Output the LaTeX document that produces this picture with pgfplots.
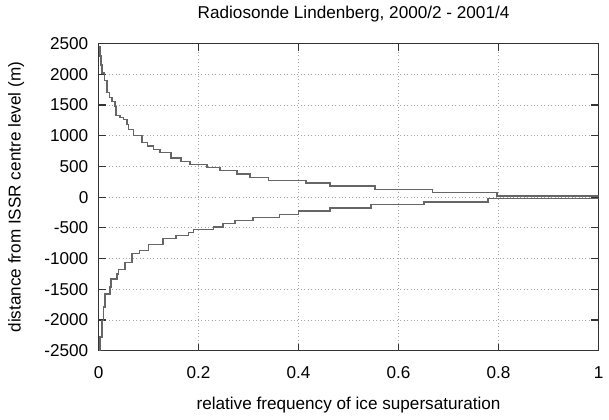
\documentclass[border=0pt,12pt]{standalone}
\usepackage{fontspec}
\setmainfont{Liberation Sans}
\usepackage{pgfplots}
\pgfplotsset{compat=1.18}
\usepackage{pgfplotstable}

% upper branch: (frequency where the level starts, distance in m)
\pgfplotstableread{
f m
0.000 2450
0.003 2300
0.005 2150
0.007 2020
0.012 1900
0.017 1700
0.022 1620
0.027 1560
0.033 1480
0.035 1330
0.043 1300
0.050 1260
0.057 1180
0.060 1100
0.070 1000
0.087 890
0.098 833
0.110 779
0.123 724
0.145 640
0.165 577
0.183 530
0.217 485
0.243 430
0.277 376
0.303 322
0.340 272
0.415 228
0.463 180
0.553 125
0.668 76
0.797 22
1.000 22
}\upperdata

% lower branch
\pgfplotstableread{
f m
0.000 -2500
0.003 -2280
0.007 -2010
0.010 -1790
0.013 -1580
0.023 -1465
0.025 -1330
0.037 -1250
0.040 -1180
0.053 -1060
0.067 -920
0.082 -866
0.100 -773
0.129 -676
0.155 -621
0.180 -577
0.190 -523
0.230 -485
0.249 -430
0.273 -376
0.309 -328
0.362 -278
0.400 -223
0.463 -178
0.545 -120
0.651 -76
0.779 -22
1.000 -22
}\lowerdata

\begin{document}
\begin{tikzpicture}
\useasboundingbox (-69pt,-48.5pt) rectangle (357.3pt,245.5pt);
\begin{axis}[
    scale only axis,
    width=350pt, height=215pt,
    xmin=0, xmax=1,
    ymin=-2500, ymax=2500,
    xtick={0,0.2,...,1},
    ytick={-2500,-2000,...,2500},
    scaled y ticks=false,
    /pgf/number format/1000 sep={},
    /pgf/number format/assume math mode=true,
    tick align=inside,
    major tick length=5pt,
    tick style={black!80, line width=0.8pt},
    axis line style={black!80, line width=0.8pt},
    grid=major,
    major grid style={dotted, black!35, line width=0.5pt},
    xticklabel style={yshift=-7pt},
    yticklabel style={xshift=-3pt},
    every axis title shift=0pt,
    title={Radiosonde Lindenberg, 2000/2 - 2001/4},
    title style={at={(axis description cs:0.51,1.095)}, anchor=center},
    xlabel={relative frequency of ice supersaturation},
    xlabel style={at={(axis description cs:0.5,-0.176)}, anchor=center},
    ylabel={distance from ISSR centre level (m)},
    ylabel style={at={(axis description cs:-0.165,0.5)}, anchor=center, rotate=0},
]
\addplot[const plot, black!60, line width=1pt] table[x=f, y=m] {\upperdata};
\addplot[const plot, black!60, line width=1pt] table[x=f, y=m] {\lowerdata};
\end{axis}
\end{tikzpicture}
\end{document}
